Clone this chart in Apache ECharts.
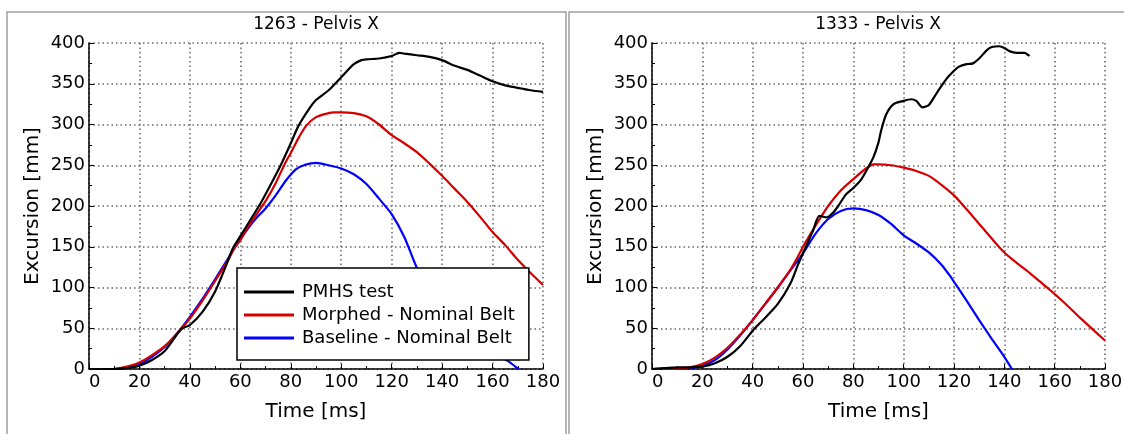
<!DOCTYPE html>
<html>
<head>
<meta charset="utf-8">
<script src="https://cdn.jsdelivr.net/npm/echarts@6.0.0/dist/echarts.min.js"></script>
<style>
  html, body { margin: 0; padding: 0; background: #fff; }
  #chart { width: 1124px; height: 434px; }
</style>
</head>
<body>
<div id="chart"></div>
<script>
// 1263 - Pelvis X
const test1263T = [0, 10, 15, 20, 25, 30, 35, 37, 40, 45, 50, 55, 57, 60, 65, 68, 72, 76, 80, 83, 87, 90, 95, 100, 105, 108, 110, 115, 120, 123, 125, 130, 135, 140, 145, 150, 155, 160, 165, 170, 175, 180];
const test1263V = [0, 0, 1, 4, 11, 22, 43, 50, 54, 70, 95, 132, 148, 163, 188, 203, 226, 250, 277, 298, 318, 330, 342, 358, 374, 379, 380, 381, 384, 388, 387, 385, 383, 379, 372, 367, 360, 353, 348, 345, 342, 340];
const morph1263T = [0, 10, 15, 20, 25, 30, 35, 40, 45, 50, 55, 58, 60, 63, 66, 70, 74, 78, 80, 83, 86, 90, 95, 97, 100, 105, 110, 115, 120, 125, 130, 135, 140, 145, 150, 155, 160, 165, 170, 175, 180];
const morph1263V = [0, 0, 3, 8, 17, 28, 44, 62, 84, 108, 133, 150, 158, 174, 188, 206, 228, 254, 265, 283, 298, 309, 314, 315, 315, 314, 310, 300, 287, 277, 266, 252, 237, 221, 205, 187, 168, 152, 134, 118, 103];
const base1263T = [0, 10, 15, 20, 25, 30, 35, 40, 45, 50, 55, 58, 62, 66, 70, 74, 78, 82, 86, 90, 95, 100, 105, 110, 115, 120, 125, 130, 135, 140, 145, 150, 155, 160, 166, 169, 170.5];
const base1263V = [0, 0, 2, 6, 15, 27, 44, 64, 86, 110, 135, 150, 168, 184, 197, 213, 231, 245, 251, 253, 250, 246, 239, 227, 209, 190, 162, 124, 96, 72, 53, 40, 28, 19, 10, 3, 0];

// 1333 - Pelvis X
const test1333T = [0, 5, 10, 15, 20, 25, 30, 35, 40, 45, 50, 55, 58, 60, 62, 64, 66.5, 69.5, 72, 74, 77, 80, 83, 86, 88, 90, 91, 93, 96, 100, 103, 105, 107.5, 110, 113, 117, 120, 122, 125, 127.5, 130, 133, 135, 138, 140, 142, 145, 148, 150];
const test1333V = [0, 1, 2, 2, 3, 7, 15, 28, 47, 63, 80, 105, 128, 142, 156, 170, 188, 186, 192, 200, 214, 222, 232, 248, 260, 278, 292, 312, 325, 329, 331, 329, 321, 324, 338, 356, 366, 371, 374, 375, 381, 391, 395, 396, 394, 390, 388, 388, 384];
const morph1333T = [0, 5, 10, 15, 20, 25, 30, 35, 40, 45, 50, 55, 58, 60, 65, 70, 75, 80, 85, 88, 90, 95, 100, 105, 110, 115, 120, 125, 130, 135, 140, 145, 150, 155, 160, 165, 170, 175, 180];
const morph1333V = [0, 0.5, 1, 2, 6, 14, 26, 42, 60, 80, 100, 122, 138, 150, 176, 200, 219, 233, 246, 251, 251, 250, 247, 243, 237, 226, 213, 196, 178, 160, 143, 130, 118, 105, 92, 78, 63, 49, 35];
const base1333T = [0, 5, 10, 15, 20, 25, 30, 35, 40, 45, 50, 55, 60, 65, 70, 75, 80, 85, 90, 95, 100, 105, 110, 115, 118, 120, 125, 130, 135, 140, 143];
const base1333V = [0, 0.5, 1, 1, 4, 11, 24, 41, 60, 80, 100, 121, 142, 166, 184, 194, 197, 195, 189, 178, 164, 154, 143, 128, 116, 107, 84, 60, 37, 15, 0];

const seriesNames = ['PMHS test', 'Morphed - Nominal Belt', 'Baseline - Nominal Belt'];
const seriesColors = ['#000000', '#d40000', '#0000ff'];
const panelTitles = ['1263 - Pelvis X', '1333 - Pelvis X'];
const xTicks = [0, 180, 20];
const yTicks = [0, 400, 50];

const FONT = 'DejaVu Sans';

const pairs = (t, v) => t.map((x, i) => [x, v[i]]);

const panels = [
  [pairs(test1263T, test1263V), pairs(morph1263T, morph1263V), pairs(base1263T, base1263V)],
  [pairs(test1333T, test1333V), pairs(morph1333T, morph1333V), pairs(base1333T, base1333V)]
];

const grids = [
  { left: 89, top: 43, width: 454, height: 326, outerBoundsMode: 'none' },
  { left: 652, top: 43, width: 453, height: 326, outerBoundsMode: 'none' }
];

const makeX = (i) => ({
  gridIndex: i,
  type: 'value',
  min: xTicks[0],
  max: xTicks[1],
  interval: xTicks[2],
  name: 'Time [ms]',
  nameLocation: 'middle',
  nameGap: 33,
  nameTextStyle: { fontFamily: FONT, fontSize: 20, color: '#000' },
  axisLine: { show: true, onZero: false, lineStyle: { color: '#000', width: 1.5 } },
  axisTick: { show: true, inside: true, length: 5, lineStyle: { color: '#000', width: 1 } },
  minorTick: { show: true, splitNumber: 2, length: 3, lineStyle: { color: '#000', width: 1 } },
  axisLabel: { fontFamily: FONT, fontSize: 18, color: '#000', margin: 4, alignMinLabel: 'left' },
  splitLine: { show: true, lineStyle: { color: '#666', width: 1.5, type: [1.5, 3] } },
  minorSplitLine: { show: false }
});

const makeY = (i) => ({
  gridIndex: i,
  type: 'value',
  min: yTicks[0],
  max: yTicks[1],
  interval: yTicks[2],
  name: 'Excursion [mm]',
  nameLocation: 'middle',
  nameGap: 46,
  nameRotate: 90,
  nameTextStyle: { fontFamily: FONT, fontSize: 20, color: '#000' },
  axisLine: { show: true, onZero: false, lineStyle: { color: '#000', width: 1.5 } },
  axisTick: { show: true, inside: true, length: 5, lineStyle: { color: '#000', width: 1 } },
  minorTick: { show: true, splitNumber: 2, length: 3, lineStyle: { color: '#000', width: 1 } },
  axisLabel: { fontFamily: FONT, fontSize: 18, color: '#000', margin: 4 },
  splitLine: { show: true, lineStyle: { color: '#666', width: 1.5, type: [1.5, 3] } }
});

const series = [];
panels.forEach((lines, p) => {
  lines.forEach((data, k) => {
    series.push({
      name: seriesNames[k],
      type: 'line',
      xAxisIndex: p,
      yAxisIndex: p,
      data: data,
      symbol: 'none',
      showSymbol: false,
      smooth: 0.25,
      lineStyle: { color: seriesColors[k], width: 2.2 },
      itemStyle: { color: seriesColors[k] },
      z: 2 + (2 - k) * 0.1
    });
  });
});

const myChart = echarts.init(document.getElementById('chart'));
const options = {
  animation: false,
  backgroundColor: '#fff',
  textStyle: { fontFamily: FONT },
  title: panelTitles.map((t, i) => ({
    text: t,
    left: i === 0 ? 316 : 878,
    top: 16,
    textAlign: 'center',
    padding: 0,
    textStyle: { fontFamily: FONT, fontSize: 17, fontWeight: 'normal', color: '#000' }
  })),
  legend: {
    data: seriesNames,
    orient: 'vertical',
    left: 237,
    top: 268,
    padding: [14, 14, 12, 7],
    itemGap: 3,
    itemWidth: 50,
    itemHeight: 3,
    icon: 'rect',
    selectedMode: false,
    backgroundColor: '#fff',
    borderColor: '#000',
    borderWidth: 1.5,
    textStyle: { fontFamily: FONT, fontSize: 18, color: '#000', lineHeight: 20, padding: [0, 0, 0, 3] }
  },
  grid: grids,
  xAxis: [makeX(0), makeX(1)],
  yAxis: [makeY(0), makeY(1)],
  series: series,
  graphic: [
    { type: 'rect', silent: true, z: -1, shape: { x: 7, y: 12, width: 559, height: 440 }, style: { fill: 'none', stroke: '#a0a0a0', lineWidth: 1.5 } },
    { type: 'rect', silent: true, z: -1, shape: { x: 569, y: 12, width: 560, height: 440 }, style: { fill: 'none', stroke: '#a0a0a0', lineWidth: 1.5 } }
  ]
};

options && myChart.setOption(options);
</script>
</body>
</html>
